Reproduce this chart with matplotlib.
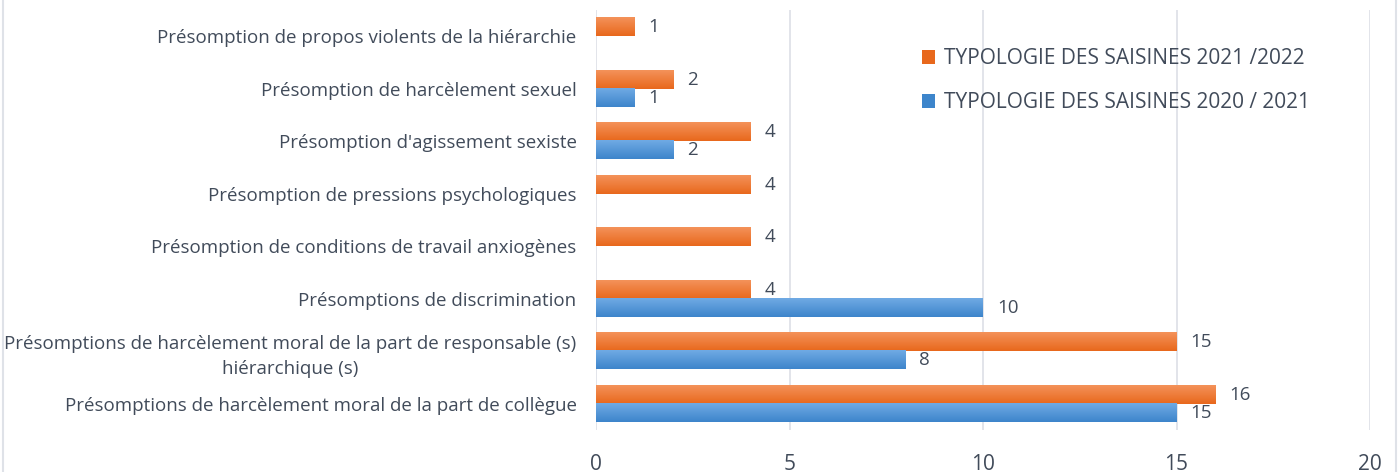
import matplotlib
matplotlib.use("Agg")
import matplotlib.pyplot as plt
from matplotlib.lines import Line2D
from matplotlib.patches import Patch
import numpy as np

# categories listed from bottom to top of the chart
categories = [
    "Présomptions de harcèlement moral de la part de collègue",
    "Présomptions de harcèlement moral de la part de responsable (s)\nhiérarchique (s)",
    "Présomptions de discrimination",
    "Présomption de conditions de travail anxiogènes",
    "Présomption de pressions psychologiques",
    "Présomption d'agissement sexiste",
    "Présomption de harcèlement sexuel",
    "Présomption de propos violents de la hiérarchie",
]
saisines_2021_2022 = [16, 15, 4, 4, 4, 4, 2, 1]
saisines_2020_2021 = [15, 8, 10, None, None, 2, 1, None]
label_2021_2022 = "TYPOLOGIE DES SAISINES 2021 /2022"
label_2020_2021 = "TYPOLOGIE DES SAISINES 2020 / 2021"
xticks = [0, 5, 10, 15, 20]

plt.rcParams['font.family'] = ['Open Sans', 'DejaVu Sans']
text_col = "#414b5a"
orange_top, orange_bot = "#f4925a", "#e8681c"
blue_top, blue_bot = "#70aae4", "#3d85cb"

fig = plt.figure(figsize=(13.99, 4.72), dpi=100)
ax = fig.add_axes([596 / 1399, 1 - 430 / 472, 774 / 1399, 420 / 472])

y = np.arange(len(categories))
h = 0.345


def grad_bars(ax, ys, vals, top, bot):
    # bars filled with a vertical gradient, light at the top
    cmap = matplotlib.colors.LinearSegmentedColormap.from_list("g", [bot, top])
    g = np.linspace(0, 1, 64).reshape(-1, 1)
    for yy, v in zip(ys, vals):
        if v is None:
            continue
        ax.imshow(g, extent=(0, v, yy - h / 2, yy + h / 2), origin="lower",
                  cmap=cmap, aspect="auto", zorder=2, interpolation="bilinear")
        ax.annotate(str(v), (v, yy), xytext=(10, 0), textcoords="offset points",
                    ha="left", va="center", fontsize=13.5, color=text_col)


grad_bars(ax, y + h / 2, saisines_2021_2022, orange_top, orange_bot)
grad_bars(ax, y - h / 2, saisines_2020_2021, blue_top, blue_bot)

ax.set_xlim(0, 20)
ax.set_ylim(-0.5, len(categories) - 0.5)
ax.set_xticks(xticks)
ax.set_yticks(y)
ax.set_yticklabels(categories)
for lab in ax.get_yticklabels():
    lab.set_multialignment("center")
    lab.set_linespacing(1.45)
ax.tick_params(axis="y", length=0, pad=14, labelsize=13.5, labelcolor=text_col)
ax.tick_params(axis="x", length=0, pad=17, labelsize=15, labelcolor=text_col)
ax.grid(axis="x", color="#dfe2e8", linewidth=1.3, zorder=0)
ax.set_axisbelow(True)
for s in ax.spines.values():
    s.set_visible(False)

handles = [Patch(facecolor=orange_bot, edgecolor="none"),
           Patch(facecolor=blue_bot, edgecolor="none")]
ax.legend(handles, [label_2021_2022, label_2020_2021], loc="upper left",
          bbox_to_anchor=((914 - 596) / 774, (430 - 40) / 420),
          frameon=False, fontsize=15, labelcolor=text_col, labelspacing=1.1,
          handlelength=0.6, handleheight=0.6, handletextpad=0.45, borderaxespad=0)

# light side borders of the chart frame
fig.add_artist(Line2D([3 / 1399, 3 / 1399], [0, 1], color="#dfe2e8", lw=1.5))
fig.add_artist(Line2D([1396 / 1399, 1396 / 1399], [0, 1], color="#dfe2e8", lw=1.5))

fig.savefig("out.png", dpi=100)
